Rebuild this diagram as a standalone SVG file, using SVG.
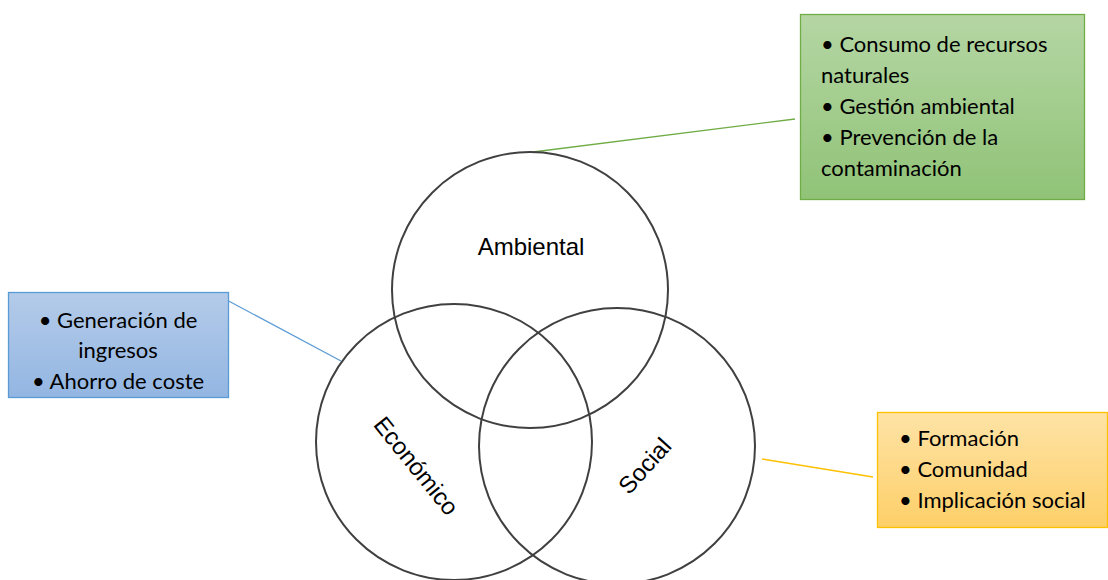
<svg xmlns="http://www.w3.org/2000/svg" width="1108" height="580" viewBox="0 0 1108 580">
<defs>
<linearGradient id="gGreen" x1="0" y1="0" x2="0" y2="1"><stop offset="0" stop-color="#b5d6a4"/><stop offset="1" stop-color="#90c377"/></linearGradient>
<linearGradient id="gBlue" x1="0" y1="0" x2="0" y2="1"><stop offset="0" stop-color="#b4cbe9"/><stop offset="1" stop-color="#93b6e2"/></linearGradient>
<linearGradient id="gYellow" x1="0" y1="0" x2="0" y2="1"><stop offset="0" stop-color="#fee3a6"/><stop offset="1" stop-color="#fdcf68"/></linearGradient>
<style>
.circ{fill:none;stroke:#404040;stroke-width:2}
.lbl{font-family:"Liberation Sans",Arial,sans-serif;font-size:24px;fill:#000}
.box{font-family:Lato,"Open Sans",sans-serif;font-size:22px;fill:#000}
</style>
</defs>
<rect width="1108" height="580" fill="#fff"/>
<g id="connectors" fill="none" stroke-width="1.3">
<line x1="533" y1="152" x2="795" y2="119" stroke="#70ad47"/>
<line x1="223" y1="298" x2="341" y2="361" stroke="#5b9bd5"/>
<line x1="762" y1="459" x2="873" y2="477" stroke="#ffc000"/>
</g>
<g id="ambiental">
<circle class="circ" cx="530" cy="290" r="138"/>
<text class="lbl" x="531" y="255" text-anchor="middle">Ambiental</text>
</g>
<g id="economico">
<circle class="circ" cx="454" cy="442" r="138"/>
<text class="lbl" transform="translate(416,466) rotate(51)" x="0" y="8" text-anchor="middle">Económico</text>
</g>
<g id="social">
<circle class="circ" cx="617" cy="446" r="138"/>
<text class="lbl" transform="translate(645,466) rotate(-48)" x="0" y="8" text-anchor="middle">Social</text>
</g>
<g id="box-ambiental">
<rect x="800.5" y="14.5" width="284" height="185" fill="url(#gGreen)" stroke="#70ad47" stroke-width="1.3"/>
<text class="box" x="821" y="52">• Consumo de recursos</text>
<text class="box" x="821" y="83">naturales</text>
<text class="box" x="821" y="114">• Gestión ambiental</text>
<text class="box" x="821" y="145">• Prevención de la</text>
<text class="box" x="821" y="176">contaminación</text>
</g>
<g id="box-economico">
<rect x="8.5" y="292.5" width="220" height="105" fill="url(#gBlue)" stroke="#5b9bd5" stroke-width="1.3"/>
<text class="box" x="118" y="328" text-anchor="middle">• Generación de</text>
<text class="box" x="118" y="358" text-anchor="middle">ingresos</text>
<text class="box" x="118" y="389" text-anchor="middle">• Ahorro de coste</text>
</g>
<g id="box-social">
<rect x="877.5" y="412.5" width="230" height="115" fill="url(#gYellow)" stroke="#ffc000" stroke-width="1.3"/>
<text class="box" x="899" y="446">• Formación</text>
<text class="box" x="899" y="477">• Comunidad</text>
<text class="box" x="899" y="508">• Implicación social</text>
</g>
</svg>
